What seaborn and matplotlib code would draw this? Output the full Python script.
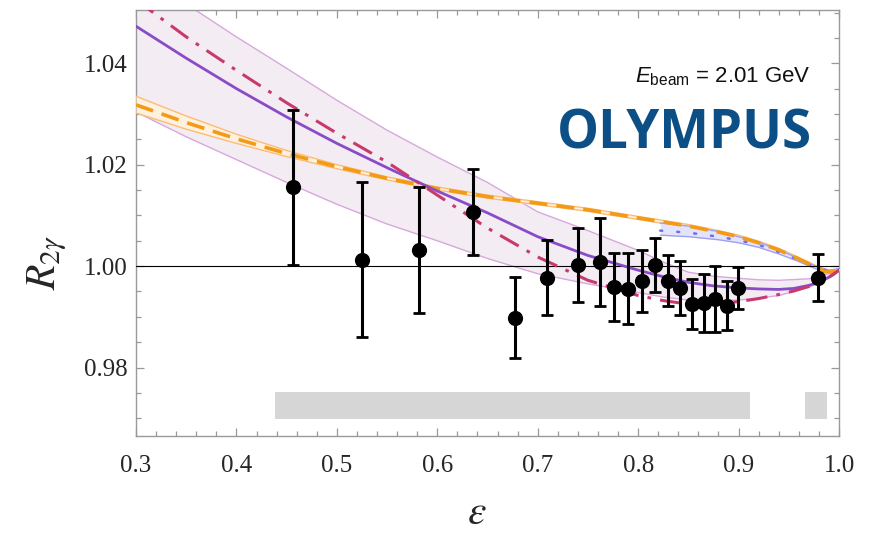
import numpy as np
import pandas as pd
import matplotlib
matplotlib.use("Agg")
import matplotlib.pyplot as plt
from matplotlib.ticker import MultipleLocator, FormatStrFormatter
import seaborn as sns

# ---------------- data ----------------
# experimental points
eps_pts = [0.456, 0.525, 0.582, 0.636, 0.677, 0.709, 0.740, 0.762, 0.776, 0.790,
           0.804, 0.817, 0.830, 0.842, 0.854, 0.866, 0.877, 0.888, 0.899, 0.979]
r_pts = [1.0155, 1.0013, 1.0032, 1.0106, 0.9898, 0.9977, 1.0002, 1.0008, 0.9959, 0.9955,
         0.9970, 1.0002, 0.9971, 0.9957, 0.9925, 0.9928, 0.9935, 0.9922, 0.9957, 0.9977]
r_err = [0.0152, 0.0153, 0.0124, 0.0085, 0.0080, 0.0074, 0.0073, 0.0086, 0.0067, 0.0070,
         0.0061, 0.0053, 0.0050, 0.0054, 0.0050, 0.0057, 0.0065, 0.0048, 0.0042, 0.0046]

# purple solid curve
eps_purple = [0.30, 0.35, 0.40, 0.45, 0.50, 0.55, 0.60, 0.65, 0.70, 0.75, 0.80, 0.825,
              0.85, 0.875, 0.90, 0.92, 0.94, 0.955, 0.97, 0.98, 0.99, 0.995, 1.00]
r_purple = [1.0473, 1.0410, 1.0350, 1.0294, 1.0242, 1.0194, 1.0148, 1.0105, 1.0058,
            1.0021, 0.9992, 0.9979, 0.9968, 0.9961, 0.9957, 0.9955, 0.9954, 0.9956,
            0.9962, 0.9968, 0.9978, 0.9984, 0.9992]

# magenta dash-dot curve
eps_magenta = [0.30, 0.35, 0.40, 0.45, 0.50, 0.55, 0.60, 0.65, 0.70, 0.75, 0.80, 0.825,
               0.85, 0.875, 0.90, 0.92, 0.94, 0.955, 0.97, 0.98, 0.99, 0.995, 1.00]
r_magenta = [1.0525, 1.0452, 1.0386, 1.0322, 1.0262, 1.0205, 1.0140, 1.0075, 1.0018,
             0.9972, 0.9942, 0.9932, 0.9925, 0.9925, 0.9930, 0.9936, 0.9944, 0.9951,
             0.9960, 0.9968, 0.9978, 0.9985, 0.9992]

# shaded (lavender) band
eps_band = [0.30, 0.35, 0.40, 0.45, 0.50, 0.55, 0.60, 0.65, 0.70, 0.75, 0.80, 0.825,
            0.85, 0.875, 0.90, 0.92, 0.94, 0.97, 0.985, 1.00]
band_hi = [1.0590, 1.0517, 1.0452, 1.0390, 1.0327, 1.0268, 1.0215, 1.0165, 1.0107,
           1.0070, 1.0031, 1.0008, 0.9988, 0.9980, 0.9976, 0.9973, 0.9972, 0.9975,
           0.9982, 0.9992]
band_lo = [1.0304, 1.0255, 1.0210, 1.0165, 1.0122, 1.0083, 1.0050, 1.0015, 0.9985,
           0.9965, 0.9948, 0.9939, 0.9933, 0.9931, 0.9933, 0.9937, 0.9942, 0.9958,
           0.9974, 0.9992]

# orange dashed curve with narrow band
eps_orange = [0.30, 0.35, 0.40, 0.45, 0.50, 0.55, 0.60, 0.65, 0.70, 0.75, 0.80, 0.85,
              0.88, 0.90, 0.92, 0.94, 0.96, 0.975, 0.985, 0.993, 1.00]
r_orange = [1.0318, 1.0283, 1.0251, 1.0222, 1.0196, 1.0173, 1.0153, 1.0137, 1.0124,
            1.0111, 1.0095, 1.0079, 1.0067, 1.0058, 1.0046, 1.0032, 1.0014, 1.0000,
            0.9990, 0.9988, 0.9993]
orange_hi = [1.0335, 1.0296, 1.0260, 1.0228, 1.0200, 1.0176, 1.0156, 1.0140, 1.0127,
             1.0114, 1.0098, 1.0082, 1.0070, 1.0061, 1.0049, 1.0035, 1.0017, 1.0003,
             0.9993, 0.9991, 0.9995]
orange_lo = [1.0302, 1.0270, 1.0242, 1.0216, 1.0192, 1.0170, 1.0150, 1.0134, 1.0121,
             1.0108, 1.0092, 1.0076, 1.0064, 1.0055, 1.0043, 1.0029, 1.0011, 0.9997,
             0.9987, 0.9985, 0.9991]

# blue dotted curve with band
eps_blue = [0.822, 0.85, 0.88, 0.90, 0.92, 0.94, 0.96, 0.975, 0.99, 1.00]
r_blue = [1.0070, 1.0066, 1.0058, 1.0051, 1.0042, 1.0028, 1.0012, 0.9999, 0.9990, 0.9993]
blue_hi = [1.0085, 1.0079, 1.0068, 1.0058, 1.0047, 1.0032, 1.0015, 1.0001, 0.9992, 0.9995]
blue_lo = [1.0061, 1.0058, 1.0052, 1.0046, 1.0037, 1.0024, 1.0009, 0.9996, 0.9988, 0.9991]

# grey systematic bars (x ranges) and their vertical extent
sys_x0 = [0.438, 0.966]
sys_x1 = [0.911, 0.988]
sys_lo = [0.9699, 0.9699]
sys_hi = [0.9752, 0.9752]

x_ticks = [0.3, 0.4, 0.5, 0.6, 0.7, 0.8, 0.9, 1.0]
y_ticks = [0.98, 1.00, 1.02, 1.04]

# ---------------- style ----------------
sns.set_style("ticks")
plt.rcParams["font.family"] = ["Liberation Serif", "DejaVu Serif"]
plt.rcParams["mathtext.fontset"] = "custom"
plt.rcParams["mathtext.rm"] = "Liberation Sans"
plt.rcParams["mathtext.it"] = "Liberation Sans:italic"

W, H = 883, 533
fig = plt.figure(figsize=(W / 100, H / 100), dpi=100)
L, R, T, B = 136, 839, 10, 436
ax = fig.add_axes([L / W, 1 - B / H, (R - L) / W, (B - T) / H])

# lavender band
ax.fill_between(eps_band, band_lo, band_hi, color="#f4ecf3", lw=0, zorder=1)
sns.lineplot(x=eps_band, y=band_hi, ax=ax, color="#d8a8dc", lw=1.0, sort=False, zorder=2)
sns.lineplot(x=eps_band, y=band_lo, ax=ax, color="#d8a8dc", lw=1.0, sort=False, zorder=2)

# orange band + dashed line
ax.fill_between(eps_orange, orange_lo, orange_hi, color="#fff1e0", lw=0, zorder=3)
sns.lineplot(x=eps_orange, y=orange_hi, ax=ax, color="#fbbd73", lw=1.0, sort=False, zorder=3)
sns.lineplot(x=eps_orange, y=orange_lo, ax=ax, color="#fbbd73", lw=1.0, sort=False, zorder=3)

# blue band + dotted line
ax.fill_between(eps_blue, blue_lo, blue_hi, color="#e3e3fb", lw=0, zorder=3)
sns.lineplot(x=eps_blue, y=blue_hi, ax=ax, color="#a0a0f0", lw=1.0, sort=False, zorder=3)
sns.lineplot(x=eps_blue, y=blue_lo, ax=ax, color="#a0a0f0", lw=1.0, sort=False, zorder=3)
sns.lineplot(x=eps_blue, y=r_blue, ax=ax, color="#6f6fe8", lw=1.8, sort=False, zorder=4)
ax.lines[-1].set_dashes((0.8, 6))
ax.lines[-1].set_dash_capstyle("round")

sns.lineplot(x=eps_orange, y=r_orange, ax=ax, color="#f39a17", lw=2.6, sort=False, zorder=5)
ax.lines[-1].set_dashes((5, 2.5))

# purple solid and magenta dash-dot
sns.lineplot(x=eps_purple, y=r_purple, ax=ax, color="#8a4cc6", lw=2.0, sort=False, zorder=6)
sns.lineplot(x=eps_magenta, y=r_magenta, ax=ax, color="#c93a6c", lw=2.2, sort=False, zorder=6)
ax.lines[-1].set_dashes((7, 3, 1.2, 3))

# unity line
ax.axhline(1.0, color="black", lw=0.8, zorder=4)

# systematic bars
for x0, x1, lo, hi in zip(sys_x0, sys_x1, sys_lo, sys_hi):
    ax.fill_between([x0, x1], [lo, lo], [hi, hi], color="#d6d6d6", lw=0, zorder=2)

# data points
ax.errorbar(eps_pts, r_pts, yerr=r_err, fmt="none", ecolor="black", elinewidth=2.2,
            capsize=4.5, capthick=2.0, zorder=8)
sns.scatterplot(x=eps_pts, y=r_pts, ax=ax, color="black", s=120, edgecolor="black",
                linewidth=0, zorder=9)

# axes
ax.set_xlim(0.3, 1.0)
ax.set_ylim(0.9665, 1.0505)
ax.set_xticks(x_ticks)
ax.set_yticks(y_ticks)
ax.xaxis.set_minor_locator(MultipleLocator(0.02))
ax.yaxis.set_minor_locator(MultipleLocator(0.005))
ax.xaxis.set_major_formatter(FormatStrFormatter("%.1f"))
ax.yaxis.set_major_formatter(FormatStrFormatter("%.2f"))
for s in ax.spines.values():
    s.set_color("#999999")
    s.set_linewidth(1.0)
ax.tick_params(which="both", direction="in", top=True, right=True, color="#999999",
               labelsize=18, width=0.9)
ax.tick_params(which="major", length=6)
ax.tick_params(which="minor", length=3.5)
ax.tick_params(axis="x", pad=14)
ax.tick_params(axis="y", pad=6)
ax.set_xlabel("")
ax.set_ylabel("")

fig.text(47 / W, 1 - 262 / H, r"$R_{2\gamma}$", rotation=90, ha="center", va="center",
         fontsize=30, math_fontfamily="stix")
fig.text(477 / W, 1 - 524 / H, r"$\varepsilon$", ha="center", va="baseline",
         fontsize=30, math_fontfamily="stix")

fig.text(811 / W, 1 - 82 / H, r"$E_{\mathrm{beam}}$ = 2.01 GeV", ha="right", va="baseline",
         fontsize=16, family="Liberation Sans", math_fontfamily="custom", color="#111111")
fig.text(812 / W, 1 - 148 / H, "OLYMPUS", ha="right", va="baseline", fontsize=38,
         fontweight="bold", family="Open Sans", color="#0b4f86")

fig.savefig("out.png", dpi=100)
